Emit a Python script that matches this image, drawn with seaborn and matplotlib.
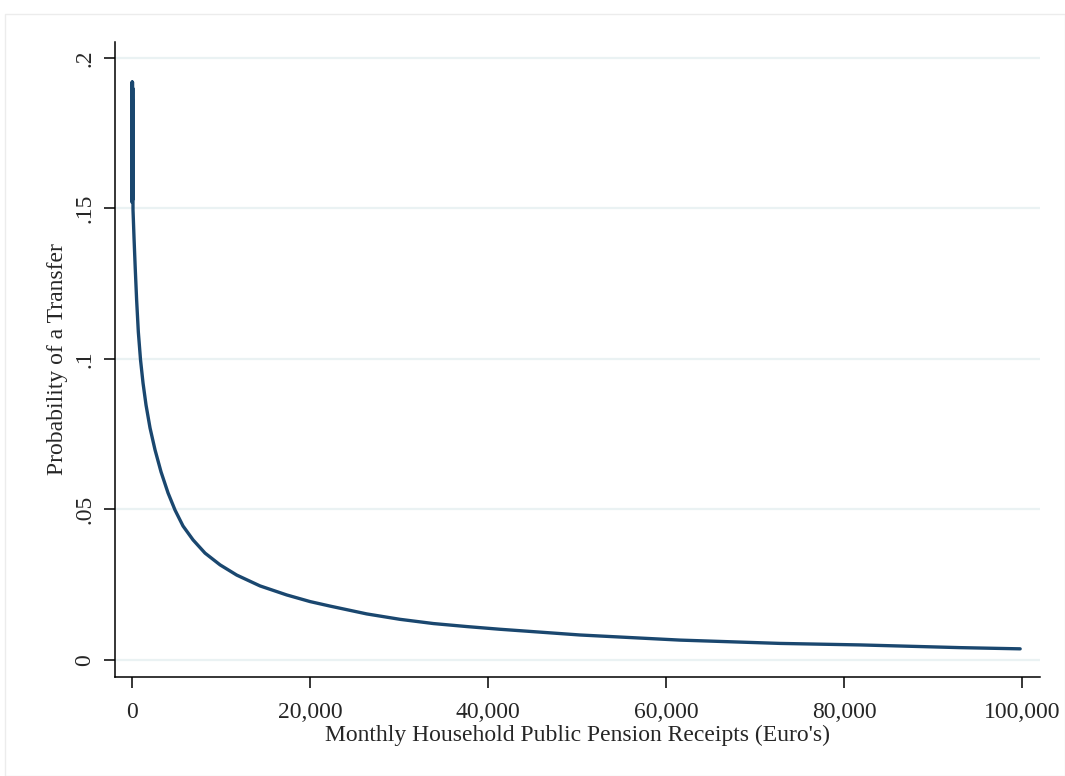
import matplotlib
matplotlib.use("Agg")
import matplotlib.pyplot as plt
import numpy as np
import pandas as pd
import seaborn as sns

# pension receipts (euro) and predicted probability
pension = [0, 12, 25, 38, 50, 62, 75, 88, 100, 110,
           112, 225, 360, 517, 708, 955, 1236, 1573, 2022, 2584,
           3258, 4045, 4831, 5730, 6854, 8202, 9888, 11764, 14382, 17382,
           20000, 22247, 26371, 30112, 33854, 37607, 41348, 50337, 61573,
           72809, 81798, 93034, 99775]
prob = [0.192, 0.152, 0.191, 0.155, 0.192, 0.158, 0.190, 0.153, 0.186, 0.151,
        0.1495, 0.1402, 0.1302, 0.1196, 0.1090, 0.0997, 0.0920, 0.0847, 0.0771, 0.0698,
        0.0625, 0.0555, 0.0498, 0.0445, 0.0399, 0.0355, 0.0316, 0.0282, 0.0246, 0.0216,
        0.0194, 0.0179, 0.0153, 0.0135, 0.0121, 0.0111, 0.0102, 0.0083, 0.0066,
        0.0055, 0.0050, 0.0041, 0.0037]

xticks = [0, 20000, 40000, 60000, 80000, 100000]
xticklabels = ["0", "20,000", "40,000", "60,000", "80,000", "100,000"]
yticks = [0, 0.05, 0.1, 0.15, 0.2]
yticklabels = ["0", ".05", ".1", ".15", ".2"]

df = pd.DataFrame({"pension": pension, "prob": prob})

sns.set_style("white")
plt.rcParams["font.family"] = ["Liberation Serif", "DejaVu Serif"]

fig = plt.figure(figsize=(10.65, 7.76), dpi=100)
fig.patch.set_facecolor("white")
# faint outer graph-region border
fig.add_artist(plt.Rectangle((0.005, 0.0), 0.995, 0.982, transform=fig.transFigure,
                             fill=False, edgecolor="#ececec", linewidth=1))

ax = fig.add_axes([0.108, 0.1276, 0.8685, 0.8183])
for y in yticks:
    ax.axhline(y, color="#eaf2f3", linewidth=1.6, zorder=0)

sns.lineplot(data=df, x="pension", y="prob", sort=False, estimator=None,
             color="#1a476f", linewidth=2.4, ax=ax)

ax.set_xlim(-1910, 102000)
ax.set_ylim(-0.00565, 0.2053)
ax.set_xticks(xticks)
ax.set_xticklabels(xticklabels)
ax.set_yticks(yticks)
ax.set_yticklabels(yticklabels, rotation=90, va="center")
ax.tick_params(axis="both", direction="out", length=8, width=1.1, color="black",
               labelsize=17, left=True, bottom=True)
ax.tick_params(axis="x", pad=10)
ax.tick_params(axis="y", pad=6)

for side in ["top", "right"]:
    ax.spines[side].set_visible(False)
for side in ["left", "bottom"]:
    ax.spines[side].set_color("black")
    ax.spines[side].set_linewidth(1.1)

ax.set_xlabel("Monthly Household Public Pension Receipts (Euro's)", fontsize=17, labelpad=1)
ax.set_ylabel("Probability of a Transfer", fontsize=17, labelpad=5)

fig.savefig("out.png", dpi=100)
